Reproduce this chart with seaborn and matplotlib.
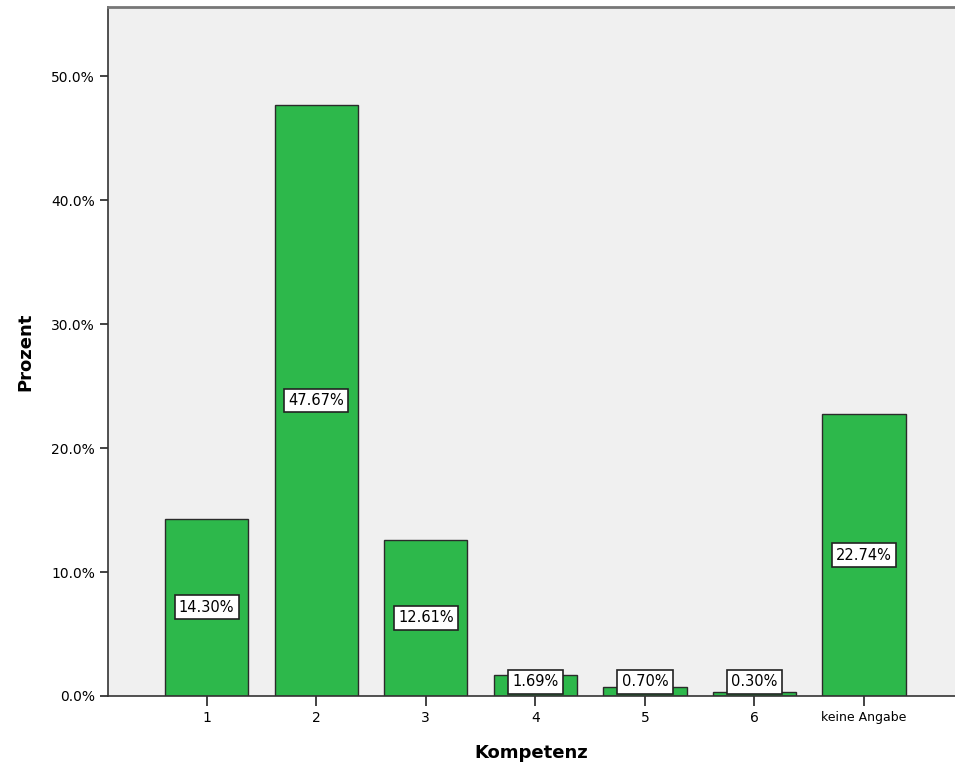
import matplotlib
matplotlib.use("Agg")
import matplotlib.pyplot as plt
import seaborn as sns
import pandas as pd
from matplotlib.ticker import FuncFormatter

categories = ["1", "2", "3", "4", "5", "6", "keine Angabe"]
percent = [14.30, 47.67, 12.61, 1.69, 0.70, 0.30, 22.74]

sns.set_style("white")
plt.rcParams.update({"font.family": ["DejaVu Sans"], "font.size": 10,
                     "text.color": "black", "axes.labelcolor": "black",
                     "xtick.color": "black", "ytick.color": "black"})

df = pd.DataFrame({"Kompetenz": categories, "Prozent": percent})

fig = plt.figure(figsize=(9.55, 7.71), dpi=100)
ax = fig.add_axes([0.1131, 0.0973, 0.8869, 0.8937])
ax.set_facecolor("#f0f0f0")

sns.barplot(data=df, x="Kompetenz", y="Prozent", color="#2db84b",
            saturation=1, width=0.76, edgecolor="#2b2b2b", linewidth=1, ax=ax)

ax.set_xlim(-0.9, 6.83)
ax.set_ylim(0, 55.6)
ax.set_yticks([0, 10, 20, 30, 40, 50])
ax.yaxis.set_major_formatter(FuncFormatter(lambda v, p: f"{v:.1f}%"))

for i, v in enumerate(percent):
    y = max(v / 2, 1.13)
    ax.text(i, y, f"{v:.2f}%", ha="center", va="center", fontsize=10.5,
            color="black",
            bbox=dict(boxstyle="square,pad=0.3", fc="white", ec="#222222", lw=1.2))

for s in ["left", "bottom"]:
    ax.spines[s].set_color("#333333")
    ax.spines[s].set_linewidth(1.2)
ax.spines["top"].set_color("#777777")
ax.spines["top"].set_linewidth(2)
ax.spines["right"].set_visible(False)

ax.tick_params(axis="y", which="major", direction="out", length=6, width=1.2,
               color="#222222", labelsize=10, left=True)
ax.tick_params(axis="x", which="major", direction="out", length=7, width=1.2,
               color="#222222", labelsize=10, bottom=True)
for lab in ax.get_xticklabels():
    if lab.get_text() == "keine Angabe":
        lab.set_fontsize(9)

ax.set_xlabel("Kompetenz", fontsize=13, fontweight="bold", labelpad=14)
ax.set_ylabel("Prozent", fontsize=13, fontweight="bold", labelpad=12)

plt.savefig("out.png", dpi=100)
